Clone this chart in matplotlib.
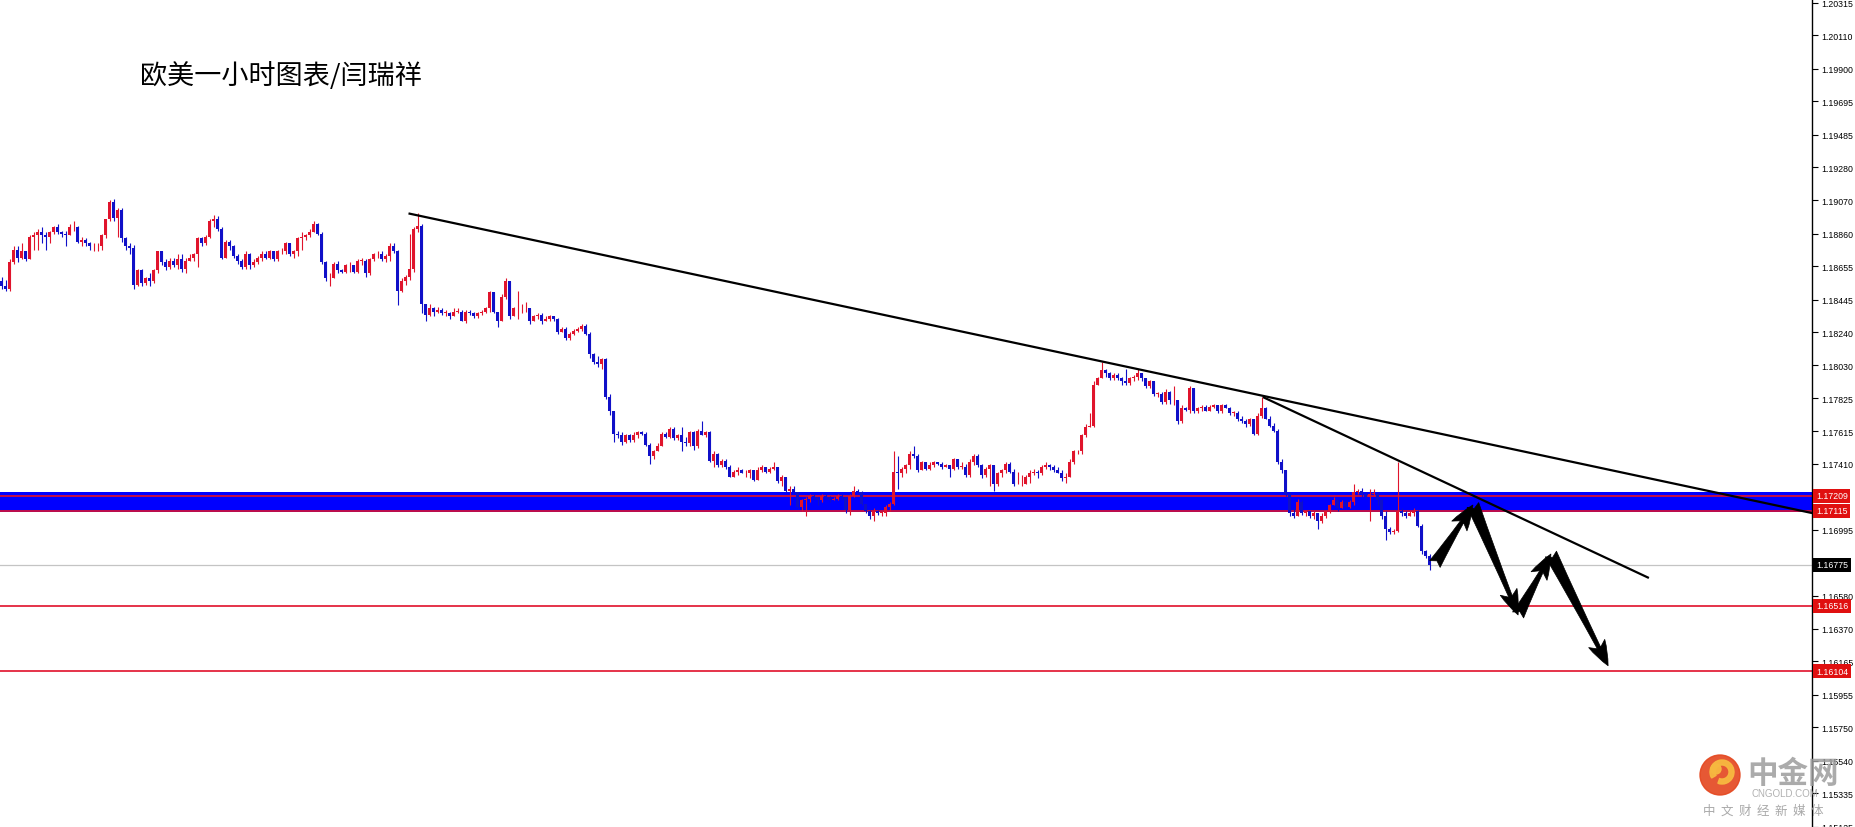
import matplotlib
matplotlib.use("Agg")
import matplotlib.pyplot as plt
import matplotlib.transforms as mtransforms
from matplotlib.patches import Circle, Wedge
import numpy as np

# EURUSD H1 candles (one value per hour)
first_open = 1.1856
closes = [
    1.1853, 1.1851, 1.1868, 1.1876, 1.1871, 1.1875, 1.1870, 1.1884, 1.1885, 1.1887,
    1.1885, 1.1884, 1.1887, 1.1890, 1.1887, 1.1886, 1.1885, 1.1890, 1.1890, 1.1881,
    1.1882, 1.1880, 1.1878, 1.1878, 1.1878, 1.1885, 1.1895, 1.1906, 1.1896, 1.1901,
    1.1883, 1.1878, 1.1877, 1.1854, 1.1863, 1.1855, 1.1858, 1.1856, 1.1863, 1.1875,
    1.1868, 1.1865, 1.1869, 1.1866, 1.1870, 1.1864, 1.1869, 1.1871, 1.1873, 1.1883,
    1.1880, 1.1884, 1.1894, 1.1895, 1.1889, 1.1871, 1.1881, 1.1878, 1.1872, 1.1869,
    1.1865, 1.1873, 1.1866, 1.1868, 1.1871, 1.1873, 1.1871, 1.1875, 1.1870, 1.1875,
    1.1875, 1.1880, 1.1873, 1.1875, 1.1883, 1.1884, 1.1885, 1.1887, 1.1892, 1.1886,
    1.1868, 1.1858, 1.1858, 1.1867, 1.1863, 1.1862, 1.1866, 1.1866, 1.1862, 1.1869,
    1.1869, 1.1861, 1.1870, 1.1873, 1.1873, 1.1870, 1.1872, 1.1878, 1.1875, 1.1850,
    1.1856, 1.1859, 1.1864, 1.1889, 1.1891, 1.1842, 1.1835, 1.1839, 1.1837, 1.1838,
    1.1836, 1.1836, 1.1834, 1.1837, 1.1837, 1.1831, 1.1837, 1.1836, 1.1834, 1.1836,
    1.1837, 1.1839, 1.1849, 1.1837, 1.1831, 1.1846, 1.1856, 1.1834, 1.1839, 1.1839,
    1.1839, 1.1839, 1.1831, 1.1834, 1.1835, 1.1831, 1.1832, 1.1834, 1.1832, 1.1824,
    1.1826, 1.1820, 1.1823, 1.1825, 1.1826, 1.1828, 1.1823, 1.1810, 1.1805, 1.1804,
    1.1807, 1.1783, 1.1774, 1.1760, 1.1759, 1.1755, 1.1759, 1.1756, 1.1759, 1.1761,
    1.1760, 1.1753, 1.1746, 1.1749, 1.1752, 1.1760, 1.1758, 1.1763, 1.1757, 1.1759,
    1.1755, 1.1754, 1.1761, 1.1752, 1.1762, 1.1759, 1.1761, 1.1743, 1.1747, 1.1740,
    1.1743, 1.1739, 1.1733, 1.1736, 1.1737, 1.1735, 1.1735, 1.1737, 1.1731, 1.1737,
    1.1739, 1.1736, 1.1738, 1.1739, 1.1730, 1.1733, 1.1724, 1.1725, 1.1723, 1.1714,
    1.1718, 1.1719, 1.1721, 1.1720, 1.1718, 1.1721, 1.1720, 1.1718, 1.1719, 1.1721,
    1.1720, 1.1712, 1.1721, 1.1724, 1.1723, 1.1716, 1.1711, 1.1708, 1.1711, 1.1710,
    1.1710, 1.1714, 1.1716, 1.1736, 1.1735, 1.1738, 1.1740, 1.1747, 1.1746, 1.1737,
    1.1742, 1.1738, 1.1740, 1.1742, 1.1741, 1.1739, 1.1740, 1.1738, 1.1744, 1.1739,
    1.1739, 1.1734, 1.1742, 1.1746, 1.1740, 1.1734, 1.1738, 1.1740, 1.1728, 1.1735,
    1.1737, 1.1741, 1.1736, 1.1728, 1.1728, 1.1728, 1.1733, 1.1735, 1.1736, 1.1735,
    1.1739, 1.1740, 1.1739, 1.1737, 1.1735, 1.1732, 1.1733, 1.1742, 1.1749, 1.1749,
    1.1759, 1.1764, 1.1765, 1.1791, 1.1795, 1.1800, 1.1798, 1.1795, 1.1797, 1.1795,
    1.1793, 1.1792, 1.1795, 1.1796, 1.1798, 1.1795, 1.1790, 1.1793, 1.1785, 1.1785,
    1.1780, 1.1786, 1.1781, 1.1781, 1.1768, 1.1776, 1.1775, 1.1789, 1.1774, 1.1776,
    1.1777, 1.1774, 1.1777, 1.1778, 1.1774, 1.1778, 1.1776, 1.1773, 1.1773, 1.1769,
    1.1768, 1.1766, 1.1769, 1.1760, 1.1771, 1.1776, 1.1769, 1.1765, 1.1762, 1.1742,
    1.1737, 1.1722, 1.1710, 1.1708, 1.1717, 1.1710, 1.1711, 1.1708, 1.1710, 1.1705,
    1.1708, 1.1711, 1.1715, 1.1718, 1.1713, 1.1717, 1.1714, 1.1717, 1.1723, 1.1724,
    1.1722, 1.1720, 1.1722, 1.1722, 1.1718, 1.1708, 1.1700, 1.1698, 1.1699, 1.1711,
    1.1710, 1.1708, 1.1710, 1.1711, 1.1702, 1.1686, 1.1683, 1.16775,
]
highs = [
    1.1859, 1.1857, 1.1870, 1.1878, 1.1878, 1.1880, 1.1875, 1.1885, 1.1887, 1.1889,
    1.1890, 1.1887, 1.1888, 1.1891, 1.1892, 1.1888, 1.1888, 1.1892, 1.1894, 1.1891,
    1.1884, 1.1883, 1.1881, 1.1880, 1.1880, 1.1886, 1.1895, 1.1907, 1.1908, 1.1902,
    1.1902, 1.1884, 1.1880, 1.1879, 1.1864, 1.1864, 1.1859, 1.1861, 1.1864, 1.1875,
    1.1875, 1.1870, 1.1871, 1.1871, 1.1873, 1.1873, 1.1871, 1.1873, 1.1874, 1.1884,
    1.1884, 1.1885, 1.1895, 1.1898, 1.1897, 1.1890, 1.1882, 1.1882, 1.1879, 1.1873,
    1.1870, 1.1875, 1.1874, 1.1870, 1.1872, 1.1875, 1.1875, 1.1876, 1.1875, 1.1876,
    1.1877, 1.1881, 1.1880, 1.1876, 1.1884, 1.1887, 1.1886, 1.1889, 1.1894, 1.1893,
    1.1887, 1.1869, 1.1861, 1.1868, 1.1869, 1.1864, 1.1867, 1.1868, 1.1866, 1.1870,
    1.1871, 1.1870, 1.1871, 1.1874, 1.1875, 1.1875, 1.1873, 1.1880, 1.1880, 1.1876,
    1.1858, 1.1860, 1.1886, 1.1890, 1.1899, 1.1892, 1.1842, 1.1842, 1.1840, 1.1840,
    1.1839, 1.1838, 1.1837, 1.1839, 1.1839, 1.1838, 1.1838, 1.1838, 1.1837, 1.1837,
    1.1838, 1.1840, 1.1850, 1.1849, 1.1837, 1.1848, 1.1858, 1.1856, 1.1840, 1.1850,
    1.1842, 1.1843, 1.1839, 1.1835, 1.1836, 1.1836, 1.1834, 1.1835, 1.1834, 1.1833,
    1.1827, 1.1827, 1.1824, 1.1826, 1.1827, 1.1829, 1.1829, 1.1824, 1.1811, 1.1809,
    1.1808, 1.1808, 1.1785, 1.1774, 1.1762, 1.1761, 1.1760, 1.1760, 1.1761, 1.1762,
    1.1762, 1.1761, 1.1754, 1.1750, 1.1754, 1.1761, 1.1761, 1.1764, 1.1764, 1.1760,
    1.1764, 1.1758, 1.1762, 1.1762, 1.1763, 1.1768, 1.1762, 1.1762, 1.1749, 1.1748,
    1.1744, 1.1744, 1.1740, 1.1737, 1.1739, 1.1738, 1.1737, 1.1738, 1.1737, 1.1739,
    1.1740, 1.1739, 1.1739, 1.1742, 1.1739, 1.1734, 1.1733, 1.1727, 1.1727, 1.1723,
    1.1719, 1.1720, 1.1722, 1.1722, 1.1720, 1.1722, 1.1722, 1.1721, 1.1720, 1.1722,
    1.1722, 1.1720, 1.1722, 1.1727, 1.1725, 1.1724, 1.1716, 1.1712, 1.1713, 1.1712,
    1.1711, 1.1715, 1.1717, 1.1749, 1.1746, 1.1739, 1.1741, 1.1749, 1.1752, 1.1747,
    1.1743, 1.1742, 1.1742, 1.1743, 1.1742, 1.1742, 1.1741, 1.1740, 1.1745, 1.1744,
    1.1742, 1.1741, 1.1744, 1.1747, 1.1747, 1.1741, 1.1739, 1.1741, 1.1740, 1.1736,
    1.1738, 1.1742, 1.1742, 1.1738, 1.1736, 1.1734, 1.1734, 1.1737, 1.1738, 1.1737,
    1.1740, 1.1742, 1.1741, 1.1740, 1.1739, 1.1737, 1.1735, 1.1744, 1.1750, 1.1750,
    1.1760, 1.1766, 1.1773, 1.1793, 1.1796, 1.1805, 1.1801, 1.1799, 1.1798, 1.1798,
    1.1796, 1.1801, 1.1796, 1.1797, 1.1801, 1.1798, 1.1795, 1.1794, 1.1793, 1.1786,
    1.1786, 1.1788, 1.1787, 1.1790, 1.1781, 1.1778, 1.1777, 1.1790, 1.1789, 1.1777,
    1.1778, 1.1778, 1.1778, 1.1779, 1.1778, 1.1779, 1.1779, 1.1777, 1.1774, 1.1774,
    1.1771, 1.1769, 1.1770, 1.1769, 1.1773, 1.1783, 1.1777, 1.1771, 1.1767, 1.1763,
    1.1744, 1.1737, 1.1723, 1.1713, 1.1719, 1.1718, 1.1712, 1.1711, 1.1711, 1.1710,
    1.1710, 1.1712, 1.1716, 1.1720, 1.1719, 1.1718, 1.1718, 1.1718, 1.1728, 1.1725,
    1.1726, 1.1723, 1.1725, 1.1725, 1.1723, 1.1719, 1.1711, 1.1701, 1.1700, 1.1742,
    1.1713, 1.1711, 1.1711, 1.1713, 1.1712, 1.1703, 1.1687, 1.1684,
]
lows = [
    1.1851, 1.1850, 1.1850, 1.1867, 1.1868, 1.1870, 1.1869, 1.1870, 1.1876, 1.1876,
    1.1880, 1.1876, 1.1880, 1.1886, 1.1886, 1.1884, 1.1878, 1.1885, 1.1888, 1.1880,
    1.1878, 1.1878, 1.1876, 1.1875, 1.1875, 1.1876, 1.1883, 1.1894, 1.1894, 1.1884,
    1.1881, 1.1876, 1.1873, 1.1851, 1.1853, 1.1853, 1.1854, 1.1853, 1.1855, 1.1861,
    1.1866, 1.1863, 1.1864, 1.1865, 1.1864, 1.1862, 1.1861, 1.1869, 1.1869, 1.1865,
    1.1878, 1.1879, 1.1883, 1.1890, 1.1888, 1.1870, 1.1871, 1.1876, 1.1871, 1.1867,
    1.1864, 1.1864, 1.1864, 1.1865, 1.1867, 1.1869, 1.1870, 1.1870, 1.1869, 1.1869,
    1.1873, 1.1873, 1.1872, 1.1871, 1.1872, 1.1876, 1.1882, 1.1884, 1.1887, 1.1885,
    1.1867, 1.1856, 1.1853, 1.1858, 1.1861, 1.1861, 1.1861, 1.1862, 1.1861, 1.1861,
    1.1866, 1.1859, 1.1860, 1.1869, 1.1871, 1.1869, 1.1868, 1.1869, 1.1874, 1.1841,
    1.1849, 1.1854, 1.1857, 1.1862, 1.1887, 1.1836, 1.1831, 1.1834, 1.1834, 1.1836,
    1.1835, 1.1834, 1.1832, 1.1834, 1.1836, 1.1831, 1.1830, 1.1835, 1.1833, 1.1833,
    1.1835, 1.1836, 1.1837, 1.1836, 1.1827, 1.1831, 1.1845, 1.1832, 1.1834, 1.1832,
    1.1836, 1.1837, 1.1829, 1.1831, 1.1832, 1.1829, 1.1831, 1.1831, 1.1831, 1.1823,
    1.1824, 1.1819, 1.1819, 1.1822, 1.1824, 1.1825, 1.1822, 1.1808, 1.1804, 1.1802,
    1.1801, 1.1782, 1.1772, 1.1755, 1.1757, 1.1753, 1.1754, 1.1755, 1.1755, 1.1757,
    1.1759, 1.1752, 1.1741, 1.1744, 1.1749, 1.1752, 1.1757, 1.1757, 1.1756, 1.1756,
    1.1749, 1.1752, 1.1752, 1.1750, 1.1751, 1.1759, 1.1758, 1.1742, 1.1739, 1.1739,
    1.1739, 1.1738, 1.1733, 1.1733, 1.1734, 1.1735, 1.1733, 1.1732, 1.1730, 1.1731,
    1.1736, 1.1735, 1.1735, 1.1737, 1.1729, 1.1727, 1.1723, 1.1715, 1.1722, 1.1713,
    1.1711, 1.1708, 1.1717, 1.1718, 1.1715, 1.1717, 1.1719, 1.1717, 1.1718, 1.1718,
    1.1718, 1.1710, 1.1709, 1.1720, 1.1722, 1.1715, 1.1710, 1.1706, 1.1705, 1.1709,
    1.1708, 1.1708, 1.1711, 1.1715, 1.1725, 1.1733, 1.1735, 1.1738, 1.1745, 1.1736,
    1.1737, 1.1737, 1.1737, 1.1739, 1.1740, 1.1738, 1.1739, 1.1733, 1.1737, 1.1738,
    1.1738, 1.1733, 1.1733, 1.1740, 1.1739, 1.1732, 1.1733, 1.1727, 1.1724, 1.1727,
    1.1733, 1.1735, 1.1735, 1.1727, 1.1728, 1.1727, 1.1728, 1.1729, 1.1734, 1.1732,
    1.1734, 1.1738, 1.1737, 1.1736, 1.1735, 1.1730, 1.1729, 1.1733, 1.1741, 1.1747,
    1.1747, 1.1758, 1.1764, 1.1764, 1.1791, 1.1795, 1.1796, 1.1794, 1.1794, 1.1794,
    1.1791, 1.1791, 1.1791, 1.1793, 1.1794, 1.1793, 1.1789, 1.1789, 1.1784, 1.1783,
    1.1779, 1.1779, 1.1779, 1.1778, 1.1766, 1.1767, 1.1774, 1.1773, 1.1773, 1.1773,
    1.1774, 1.1774, 1.1774, 1.1776, 1.1773, 1.1773, 1.1776, 1.1772, 1.1771, 1.1768,
    1.1767, 1.1764, 1.1765, 1.1759, 1.1759, 1.1770, 1.1769, 1.1764, 1.1761, 1.1741,
    1.1735, 1.1721, 1.1708, 1.1707, 1.1708, 1.1709, 1.1708, 1.1707, 1.1706, 1.1700,
    1.1704, 1.1707, 1.1710, 1.1715, 1.1711, 1.1713, 1.1713, 1.1713, 1.1715, 1.1722,
    1.1720, 1.1719, 1.1705, 1.1721, 1.1715, 1.1706, 1.1693, 1.1697, 1.1697, 1.1698,
    1.1708, 1.1707, 1.1708, 1.1708, 1.1701, 1.1684, 1.1682, 1.1674,
]
# hourly bars: each bar opens where the previous one closed
opens = [first_open] + closes[:-1]

# support zone and horizontal levels
zone_low, zone_high = 1.17106, 1.17233
red_levels = [1.17209, 1.17115, 1.16516, 1.16104]
bid_price = 1.16775

tick_values = [1.20315, 1.20110, 1.19900, 1.19695, 1.19485, 1.19280, 1.19070,
               1.18860, 1.18655, 1.18445, 1.18240, 1.18030, 1.17825, 1.17615,
               1.17410, 1.16995, 1.16580, 1.16370, 1.16165, 1.15955, 1.15750,
               1.15540, 1.15335, 1.15125]

# trend lines (bar index, price)
trend1_x = [101.7, 452.6]
trend1_y = [1.18988, 1.17100]
trend2_x = [315.3, 411.8]
trend2_y = [1.17831, 1.16691]

# projected path drawn with arrows
path_x = [358.3, 367.8, 379.1, 387.3, 401.6]
path_y = [1.16779, 1.17151, 1.16458, 1.16842, 1.16138]

RED = "#e0142c"
BLUE = "#1010c8"
SCALE_FONT = ["Liberation Sans", "DejaVu Sans"]

W, H = 1856, 828
fig = plt.figure(figsize=(W / 100, H / 100), dpi=100)
fig.patch.set_facecolor("white")
ax = fig.add_axes([0, 0, 1812 / W, 1])
ax.set_xlim(-0.425, 452.575)
ax.set_ylim(1.15122, 1.20339)

# zone + lines
ax.axhspan(zone_low, zone_high, color="#0000ff", lw=0, zorder=1)
for v in red_levels:
    ax.axhline(v, color="#e0102a", lw=1.2, zorder=2)
ax.axhline(bid_price, color="#c4c4c4", lw=0.9, zorder=2)

# candles
x = np.arange(len(closes))
o = np.array(opens)
c = np.array(closes)
col = np.where(c >= o, RED, BLUE)
ax.vlines(x, lows, highs, colors=col, lw=0.8, zorder=3)
ax.bar(x, np.maximum(np.abs(c - o), 0.00004), bottom=np.minimum(o, c),
       width=0.75, color=col, lw=0, zorder=4)

# trend lines
ax.plot(trend1_x, trend1_y, color="black", lw=1.6, zorder=5, solid_capstyle="butt")
ax.plot(trend2_x, trend2_y, color="black", lw=1.6, zorder=5, solid_capstyle="butt")

# projection arrows
for k in range(len(path_x) - 1):
    ax.annotate("", xy=(path_x[k + 1], path_y[k + 1]), xytext=(path_x[k], path_y[k]),
                arrowprops=dict(arrowstyle="fancy,head_length=0.9,head_width=0.65,tail_width=0.45",
                                fc="black", ec="black", lw=0.5,
                                shrinkA=0, shrinkB=0, mutation_scale=20),
                zorder=6)

# right price scale
for s in ["left", "top", "bottom"]:
    ax.spines[s].set_visible(False)
ax.spines["right"].set_color("black")
ax.spines["right"].set_linewidth(1)
ax.set_xticks([])
ax.yaxis.tick_right()
ax.set_yticks(tick_values)
ax.set_yticklabels([f"{v:.5f}" for v in tick_values], family=SCALE_FONT)
ax.tick_params(axis="y", direction="out", length=4, width=0.8, pad=3,
               labelsize=6.3, colors="black")

# price tags on the scale
trans = mtransforms.blended_transform_factory(ax.transAxes, ax.transData)
for v in red_levels:
    ax.text(1.0022, v, f"{v:.5f}", transform=trans, va="center", ha="left",
            color="white", fontsize=6.3, family=SCALE_FONT, clip_on=False, zorder=10,
            bbox=dict(boxstyle="square,pad=0.3", fc="#e01010", ec="none"))
ax.text(1.0022, bid_price, f"{bid_price:.5f}", transform=trans, va="center", ha="left",
        color="white", fontsize=6.3, family=SCALE_FONT, clip_on=False, zorder=10,
        bbox=dict(boxstyle="square,pad=0.3", fc="black", ec="none"))

# title
fig.text(140 / W, 1 - 76 / H, "欧美一小时图表/闫瑞祥", fontsize=19.5,
         family=["Noto Sans CJK SC", "DejaVu Sans"], va="center", ha="left", color="black")

# watermark logo (figure pixel coordinates)
lax = fig.add_axes([0, 0, 1, 1], zorder=20)
lax.set_xlim(0, W)
lax.set_ylim(H, 0)
lax.axis("off")
lax.patch.set_alpha(0)
lax.add_patch(Circle((1720, 776), 20, color="#e4461e", alpha=0.9))
lax.add_patch(Wedge((1722, 773), 12, 150, 470, width=5, color="#f7b940", alpha=0.95))
lax.add_patch(Circle((1716, 770), 5, color="#f7b940", alpha=0.95))
cjk = ["Noto Sans CJK SC", "DejaVu Sans"]
lax.text(1747, 774, "中金网", fontsize=22, family=cjk, weight="bold",
         color="#9c9c9c", alpha=0.85, va="center", ha="left")
lax.text(1752, 794, "CNGOLD.COM", fontsize=7, family=SCALE_FONT,
         color="#a8a8a8", alpha=0.9, va="center", ha="left")
lax.text(1703, 811, "中  文  财  经  新  媒  体", fontsize=9, family=cjk,
         color="#a0a0a0", alpha=0.9, va="center", ha="left")

fig.savefig("out.png", dpi=100, facecolor="white")
